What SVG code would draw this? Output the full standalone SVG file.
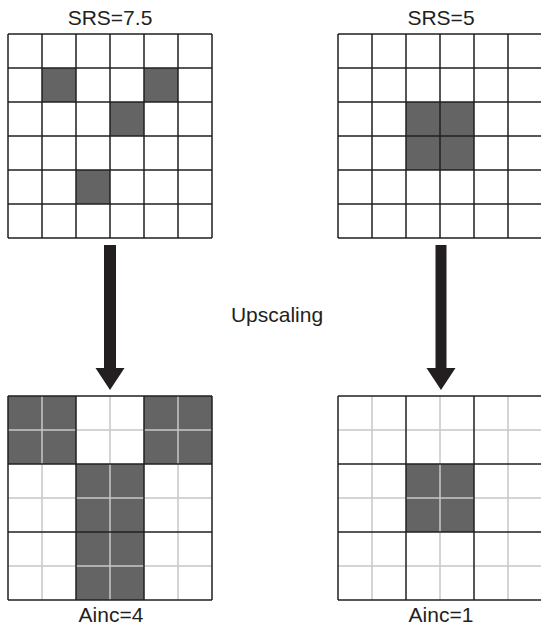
<svg xmlns="http://www.w3.org/2000/svg" width="541" height="629" viewBox="0 0 541 629">
<style>
text{font-family:"Liberation Sans",Arial,sans-serif;font-size:21px;fill:#231f20;text-anchor:middle}
.dk{stroke:#231f20;stroke-width:1.5;fill:none}
.lt{stroke:#c8c8c8;stroke-width:1.5;fill:none}
.sh{fill:#646464}
.bg{fill:#ffffff}
.arr{fill:#231f20}
</style>
<rect width="541" height="629" fill="#ffffff"/>
<g id="grid-srs75">
<text x="110" y="25">SRS=7.5</text>
<rect class="sh" x="42" y="68" width="34" height="34"/>
<rect class="sh" x="144" y="68" width="34" height="34"/>
<rect class="sh" x="110" y="102" width="34" height="34"/>
<rect class="sh" x="76" y="170" width="34" height="34"/>
<path class="dk" d="M8 34V238M42 34V238M76 34V238M110 34V238M144 34V238M178 34V238M212 34V238M8 34H212M8 68H212M8 102H212M8 136H212M8 170H212M8 204H212M8 238H212"/>
</g>
<g id="grid-srs5">
<text x="441" y="25">SRS=5</text>
<rect class="sh" x="406" y="102" width="68" height="68"/>
<path class="dk" d="M338 34V238M372 34V238M406 34V238M440 34V238M474 34V238M508 34V238M542 34V238M338 34H542M338 68H542M338 102H542M338 136H542M338 170H542M338 204H542M338 238H542"/>
</g>
<g id="label-upscaling">
<text x="277" y="322">Upscaling</text>
</g>
<g id="grid-ainc4">
<rect class="sh" x="8" y="396" width="68" height="68"/>
<rect class="sh" x="144" y="396" width="68" height="68"/>
<rect class="sh" x="76" y="464" width="68" height="68"/>
<rect class="sh" x="76" y="532" width="68" height="68"/>
<path class="lt" d="M42 396V600M110 396V600M178 396V600M8 430H212M8 498H212M8 566H212"/>
<path class="dk" d="M8 396V600M76 396V600M144 396V600M212 396V600M8 396H212M8 464H212M8 532H212M8 600H212"/>
<text x="111" y="622">Ainc=4</text>
</g>
<g id="grid-ainc1">
<rect class="sh" x="406" y="464" width="68" height="68"/>
<path class="lt" d="M372 396V600M440 396V600M508 396V600M338 430H542M338 498H542M338 566H542"/>
<path class="dk" d="M338 396V600M406 396V600M474 396V600M542 396V600M338 396H542M338 464H542M338 532H542M338 600H542"/>
<text x="441" y="622">Ainc=1</text>
</g>
<g id="connectors">
<path class="arr" d="M104 245H116V368H124.5L110 390L95.5 368H104Z"/>
<path class="arr" d="M435.5 245H446.5V368H455.5L441 390L426.5 368H435.5Z"/>
</g>
</svg>
